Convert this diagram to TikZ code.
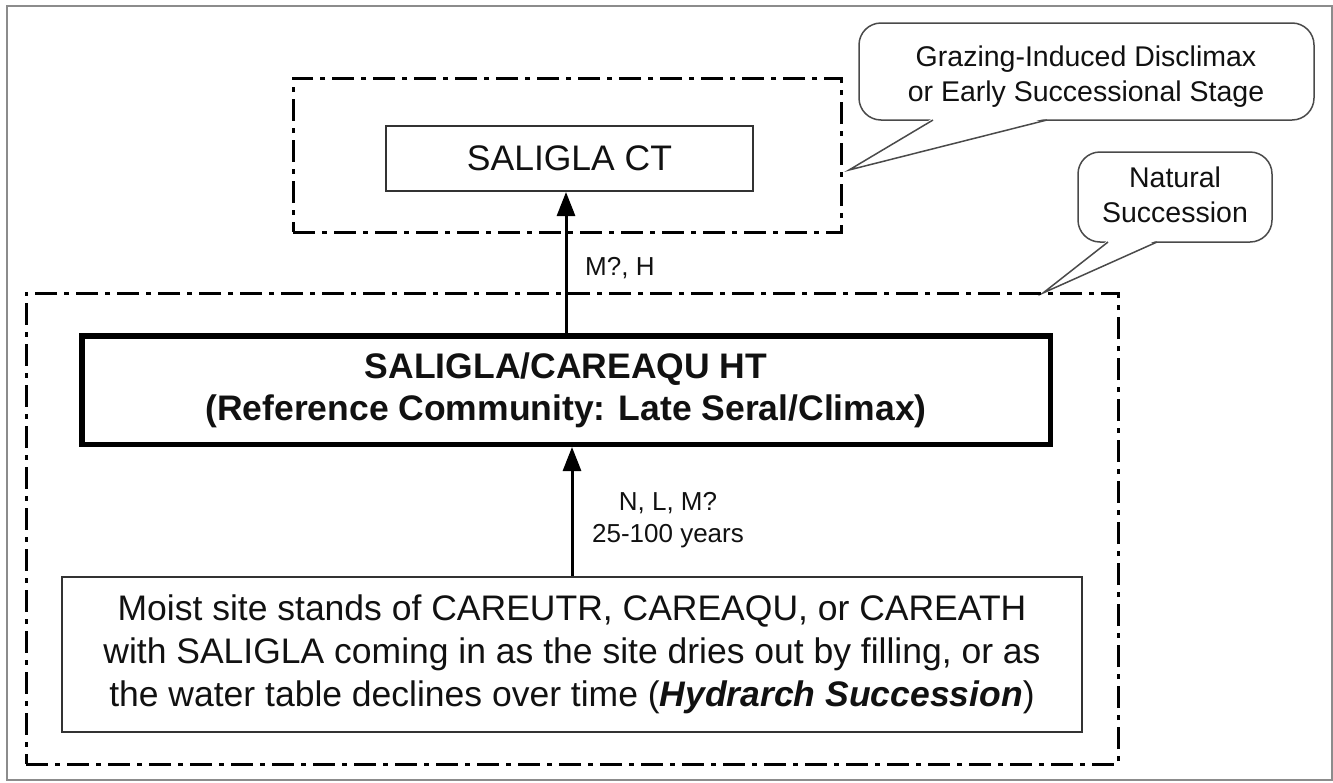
\documentclass[tikz,border=0pt]{standalone}
\usepackage{fontspec}
\setmainfont{Liberation Sans}
\usetikzlibrary{arrows.meta}
\definecolor{framegray}{HTML}{8C8C8C}
\definecolor{boxgray}{HTML}{333333}
\definecolor{callgray}{HTML}{4A4A4A}
\definecolor{ink}{HTML}{111111}

\begin{document}
\begin{tikzpicture}[x=1pt,y=-1pt,
  outerframe/.style={draw=framegray, line width=2pt, inner sep=0pt, outer sep=0pt},
  zone/.style={draw=black, line width=3pt, dash pattern=on 22pt off 7pt on 5pt off 7pt,
               inner sep=0pt, outer sep=0pt},
  thinbox/.style={draw=boxgray, line width=2pt, inner sep=0pt, align=center, text=ink},
  thickbox/.style={draw=black, line width=5.5pt, inner sep=0pt, align=center, text=ink},
  flow/.style={draw=black, line width=3pt, -{Triangle[length=24pt,width=18pt]}},
  lbl/.style={font=\fontsize{26}{32}\selectfont, inner sep=0pt, align=center, text=ink},
  callout/.style={draw=callgray, line width=1.5pt, rounded corners=22pt, fill=white,
                  inner sep=0pt, outer sep=0pt},
  calltail/.style={draw=callgray, line width=1.5pt},
  calltext/.style={font=\fontsize{28.5}{35}\selectfont, align=center, inner sep=0pt, text=ink},
]
\useasboundingbox (0,0) rectangle (1333,782);

% page frame
\node[outerframe, minimum width=1325pt, minimum height=774pt] (frame) at (669.5,393) {};

% speech-bubble notes
\node[callout, minimum width=455pt, minimum height=97pt] (c1) at (1086.5,71.5) {};
\node[calltext] (t1) at (1086,77) {Grazing-Induced Disclimax\\or Early Successional Stage};
\coordinate (tip1) at (849,170);
\fill[white] ([xshift=74pt,yshift=2pt]c1.south west) -- (tip1)
  -- ([xshift=188pt,yshift=2pt]c1.south west) -- cycle;
\draw[calltail] ([xshift=74pt]c1.south west) -- (tip1) -- ([xshift=188pt]c1.south west);

\node[callout, minimum width=194pt, minimum height=90pt] (c2) at (1175,197) {};
\node[calltext] (t2) at (1175,195) {Natural\\Succession};
\coordinate (tip2) at (1043,293);
\fill[white] ([xshift=30pt,yshift=2pt]c2.south west) -- (tip2)
  -- ([xshift=79pt,yshift=2pt]c2.south west) -- cycle;
\draw[calltail] ([xshift=30pt]c2.south west) -- (tip2) -- ([xshift=79pt]c2.south west);

% dash-dot zones
\node[zone, minimum width=548pt, minimum height=154pt] (topzone) at (567,155) {};
\node[zone, minimum width=1092pt, minimum height=471pt] (lowzone) at (572,528.5) {};

% community boxes
\node[thinbox, minimum width=367pt, minimum height=65pt,
      font=\fontsize{35.5}{42}\selectfont] (ct) at (569.5,158.5) {SALIGLA CT};
\node[thickbox, minimum width=968.5pt, minimum height=108.5pt,
      font=\bfseries\fontsize{35.5}{42}\selectfont] (ht) at (566,390)
  {SALIGLA/CAREAQU HT\\(Reference Community: Late Seral/Climax)};
\node[thinbox, minimum width=1020pt, minimum height=155pt,
      font=\fontsize{35.5}{43}\selectfont] (moist) at (572,654.5)
  {Moist site stands of CAREUTR, CAREAQU, or CAREATH\\
   with SALIGLA coming in as the site dries out by filling, or as\\
   the water table declines over time (\textbf{\textit{Hydrarch Succession}})};

% transitions
\draw[flow] (ht.north) -- (ht.north |- ct.south);
\draw[flow] (moist.north) -- (moist.north |- ht.south);
\node[lbl, anchor=base west] (lab1) at (585,275) {M?, H};
\node[lbl, anchor=base] (lab2) at (668,542) {N, L, M?\\25-100 years};
\end{tikzpicture}
\end{document}
